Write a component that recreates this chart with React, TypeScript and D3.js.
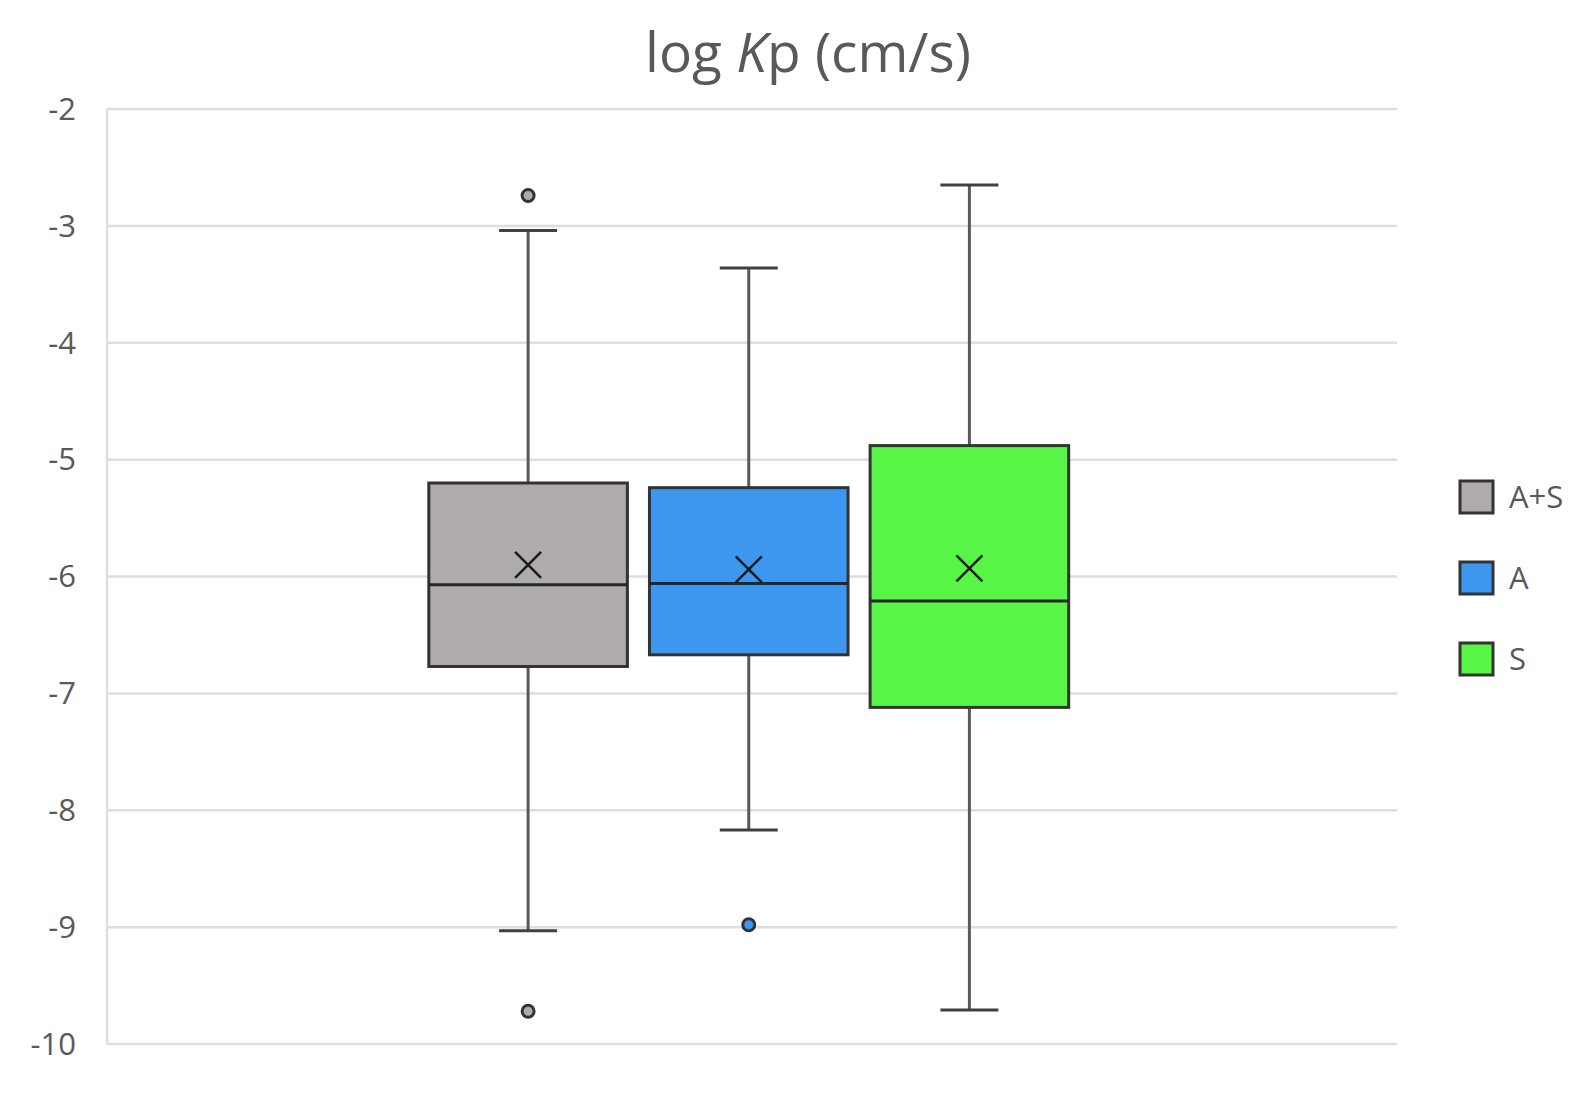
import React from 'react';
import * as d3 from 'd3';

// series
const seriesNames = ['A+S', 'A', 'S'];
const seriesColors = ['#afabab', '#3d97ef', '#56f546'];
const q1Values = [-6.77, -6.67, -7.12];
const medianValues = [-6.07, -6.06, -6.21];
const q3Values = [-5.2, -5.24, -4.88];
const meanValues = [-5.9, -5.94, -5.93];
const whiskerLow = [-9.03, -8.17, -9.71];
const whiskerHigh = [-3.04, -3.36, -2.65];
const outliers = [[-2.74, -9.72], [-8.98], []];
const yTicks = [-2, -3, -4, -5, -6, -7, -8, -9, -10];

const W = 1584;
const H = 1113;
const margin = { top: 109, right: 187, bottom: 69, left: 107 };

const App = () => {
  const innerW = W - margin.left - margin.right;
  const innerH = H - margin.top - margin.bottom;

  const y = d3.scaleLinear().domain([-10, -2]).range([innerH, 0]);

  // one category spanning the plot; the three series share the middle of it
  const cat = d3.scaleBand().domain(['']).range([0, innerW]).paddingInner(0).paddingOuter(0.508).align(0.495);
  const x = d3
    .scaleBand()
    .domain(seriesNames)
    .range([cat('') as number, (cat('') as number) + cat.bandwidth()])
    .paddingInner(0.1);

  const textColor = '#595959';
  const font = "'Open Sans', 'Noto Sans', sans-serif";
  const capW = 58;
  const xs = 13;

  return (
    <svg width={W} height={H} style={{ display: 'block', margin: -8 }} fontFamily={font}>
      <rect width={W} height={H} fill="#fff" />
      <text x={808} y={72} textAnchor="middle" fontSize={55} fill={textColor}>
        log <tspan fontStyle="italic">K</tspan>p (cm/s)
      </text>
      <g transform={`translate(${margin.left},${margin.top})`}>
        {yTicks.map((t) => (
          <g key={t}>
            <line x1={0} x2={innerW} y1={y(t)} y2={y(t)} stroke="#dedede" strokeWidth={2.5} />
            <text x={-31} y={y(t)} dy="0.35em" textAnchor="end" fontSize={31} fill={textColor}>
              {t}
            </text>
          </g>
        ))}
        <line x1={0} x2={0} y1={0} y2={innerH} stroke="#dedede" strokeWidth={2.5} />

        {seriesNames.map((s, i) => {
          const x0 = x(s) as number;
          const bw = x.bandwidth();
          const cx = x0 + bw / 2;
          return (
            <g key={s}>
              <line x1={cx} x2={cx} y1={y(whiskerHigh[i])} y2={y(q3Values[i])} stroke="#595959" strokeWidth={3} />
              <line x1={cx} x2={cx} y1={y(q1Values[i])} y2={y(whiskerLow[i])} stroke="#595959" strokeWidth={3} />
              <line x1={cx - capW / 2} x2={cx + capW / 2} y1={y(whiskerHigh[i])} y2={y(whiskerHigh[i])} stroke="#404040" strokeWidth={3} />
              <line x1={cx - capW / 2} x2={cx + capW / 2} y1={y(whiskerLow[i])} y2={y(whiskerLow[i])} stroke="#404040" strokeWidth={3} />
              <rect
                x={x0}
                y={y(q3Values[i])}
                width={bw}
                height={y(q1Values[i]) - y(q3Values[i])}
                fill={seriesColors[i]}
                stroke="#333"
                strokeWidth={3}
              />
              <line x1={x0} x2={x0 + bw} y1={y(medianValues[i])} y2={y(medianValues[i])} stroke="#262626" strokeWidth={3} />
              <path
                d={`M${cx - xs},${y(meanValues[i]) - xs}L${cx + xs},${y(meanValues[i]) + xs}M${cx + xs},${y(meanValues[i]) - xs}L${cx - xs},${y(meanValues[i]) + xs}`}
                stroke="#1a1a1a"
                strokeWidth={2.5}
                fill="none"
              />
              {outliers[i].map((o, k) => (
                <circle key={k} cx={cx} cy={y(o)} r={6} fill={seriesColors[i]} stroke="#333" strokeWidth={3} />
              ))}
            </g>
          );
        })}
      </g>

      {seriesNames.map((s, i) => (
        <g key={s} transform={`translate(1460,${497 + i * 81})`}>
          <rect x={0} y={-16} width={33} height={32} fill={seriesColors[i]} stroke="#333" strokeWidth={3} />
          <text x={49} y={0} dy="0.35em" fontSize={31} fill={textColor}>
            {s}
          </text>
        </g>
      ))}
    </svg>
  );
};

export default App;
